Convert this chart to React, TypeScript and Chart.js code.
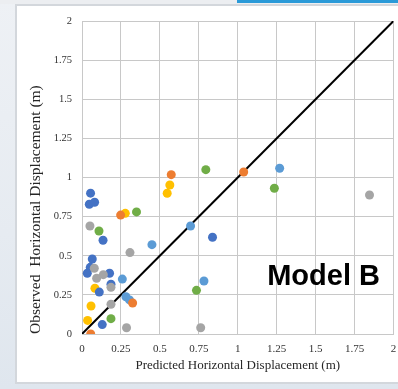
import React, { useEffect, useRef } from "react";
import { Chart, registerables } from "chart.js";

Chart.register(...registerables);

// Tick labels
const tickLabels = ["0", "0.25", "0.5", "0.75", "1", "1.25", "1.5", "1.75", "2"];

// Series (x = predicted, y = observed)
const darkBlueX = [0.055, 0.047, 0.081, 0.135, 0.066, 0.053, 0.034, 0.177, 0.186, 0.111, 0.13, 0.838];
const darkBlueY = [0.9, 0.829, 0.842, 0.599, 0.479, 0.426, 0.388, 0.388, 0.318, 0.268, 0.06, 0.618];

const orangeX = [0.248, 0.573, 0.325, 0.056, 1.038];
const orangeY = [0.76, 1.018, 0.198, 0.0, 1.035];

const grayX = [0.051, 0.308, 0.079, 0.094, 0.137, 0.186, 0.186, 0.286, 0.762, 1.846];
const grayY = [0.69, 0.52, 0.42, 0.356, 0.379, 0.298, 0.19, 0.04, 0.04, 0.888];

const yellowX = [0.278, 0.564, 0.547, 0.083, 0.058, 0.036];
const yellowY = [0.771, 0.952, 0.899, 0.292, 0.179, 0.087];

const lightBlueX = [0.449, 0.697, 0.259, 0.282, 0.305, 0.783, 1.269];
const lightBlueY = [0.571, 0.69, 0.351, 0.238, 0.218, 0.339, 1.059];

const greenX = [0.109, 0.35, 0.186, 0.735, 0.795, 1.235];
const greenY = [0.658, 0.78, 0.098, 0.279, 1.05, 0.931];

// 1:1 line
const lineX = [0, 2];
const lineY = [0, 2];

const xTitle = "Predicted Horizontal Displacement (m)";
const yTitle = "Observed  Horizontal Displacement (m)";
const annotationText = "Model B";
const annotationPos = [1.551, 0.313];

const zip = (xs: number[], ys: number[]) => xs.map((x, i) => ({ x, y: ys[i] }));

const serif = "'Liberation Serif', 'Times New Roman', serif";

export default function App() {
  const ref = useRef<HTMLCanvasElement>(null);

  useEffect(() => {
    if (!ref.current) return;
    const pt = (label: string, xs: number[], ys: number[], color: string) => ({
      type: "scatter" as const,
      label,
      data: zip(xs, ys),
      backgroundColor: color,
      borderColor: color,
      borderWidth: 0,
      pointRadius: 4.5,
      pointHoverRadius: 4.5,
    });

    const annotationPlugin = {
      id: "modelLabel",
      afterDatasetsDraw(chart: any) {
        const { ctx, scales } = chart;
        const px = scales.x.getPixelForValue(annotationPos[0]);
        const py = scales.y.getPixelForValue(annotationPos[1]);
        ctx.save();
        ctx.font = "bold 29px 'Liberation Sans', Arial, sans-serif";
        ctx.fillStyle = "#000000";
        ctx.textAlign = "center";
        ctx.textBaseline = "alphabetic";
        ctx.fillText(annotationText, px, py);
        ctx.restore();
      },
    };

    const chart = new Chart(ref.current, {
      type: "scatter",
      data: {
        datasets: [
          {
            type: "line" as const,
            label: "1:1",
            data: zip(lineX, lineY),
            borderColor: "#000000",
            borderWidth: 2,
            pointRadius: 0,
            fill: false,
            order: 10,
          },
          pt("Series 1", grayX, grayY, "#A5A5A5"),
          pt("Series 2", darkBlueX, darkBlueY, "#4472C4"),
          pt("Series 3", orangeX, orangeY, "#ED7D31"),
          pt("Series 4", yellowX, yellowY, "#FFC000"),
          pt("Series 5", lightBlueX, lightBlueY, "#5B9BD5"),
          pt("Series 6", greenX, greenY, "#70AD47"),
        ] as any,
      },
      options: {
        animation: false,
        responsive: false,
        maintainAspectRatio: false,
        layout: { padding: { left: 16, right: 4, top: 21, bottom: 0 } },
        plugins: {
          legend: { display: false },
          tooltip: { enabled: false },
        },
        scales: {
          x: {
            type: "linear",
            min: 0,
            max: 2,
            ticks: {
              stepSize: 0.25,
              padding: 9,
              color: "#333333",
              font: { family: serif, size: 11 },
              callback: (_v: any, i: number) => tickLabels[i],
            },
            grid: { color: "#c8c8c8", drawTicks: false, lineWidth: 1 },
            border: { color: "#c8c8c8" },
            title: {
              display: true,
              text: xTitle,
              color: "#262626",
              font: { family: serif, size: 13 },
              padding: { top: 0, bottom: 16 },
            },
            afterFit: (s: any) => {
              s.height = 55;
              s.paddingLeft = 0;
              s.paddingRight = 0;
            },
          },
          y: {
            type: "linear",
            min: 0,
            max: 2,
            ticks: {
              stepSize: 0.25,
              padding: 10,
              color: "#333333",
              font: { family: serif, size: 10.5 },
              callback: (_v: any, i: number) => tickLabels[i],
            },
            grid: { color: "#c8c8c8", drawTicks: false, lineWidth: 1 },
            border: { color: "#c8c8c8" },
            title: {
              display: true,
              text: yTitle,
              align: "start",
              color: "#262626",
              font: { family: serif, size: 15.5 },
              padding: { top: 11, bottom: 0 },
            },
            afterFit: (s: any) => {
              s.width = 66;
              s.paddingTop = 0;
              s.paddingBottom = 0;
            },
          },
        },
      } as any,
      plugins: [annotationPlugin],
    });
    return () => chart.destroy();
  }, []);

  return (
    <div
      style={{
        position: "fixed",
        left: 0,
        top: 0,
        width: 398,
        height: 389,
        overflow: "hidden",
        background: "linear-gradient(180deg, #eef1f5 0%, #e6ebf1 60%, #dfe6ee 100%)",
      }}
    >
      <div
        style={{
          position: "absolute",
          left: 0,
          top: 0,
          width: 398,
          height: 4,
          background: "#eceef1",
        }}
      />
      <div
        style={{
          position: "absolute",
          left: 237,
          top: 0,
          width: 161,
          height: 3,
          background: "#2a9ad8",
        }}
      />
      <div
        style={{
          position: "absolute",
          left: 15,
          top: 4,
          width: 390,
          height: 380,
          background: "#ffffff",
          border: "2px solid #d3d7dc",
          boxSizing: "border-box",
        }}
      />
      <canvas
        ref={ref}
        width={398}
        height={389}
        style={{ position: "absolute", left: 0, top: 0, width: 398, height: 389 }}
      />
    </div>
  );
}
